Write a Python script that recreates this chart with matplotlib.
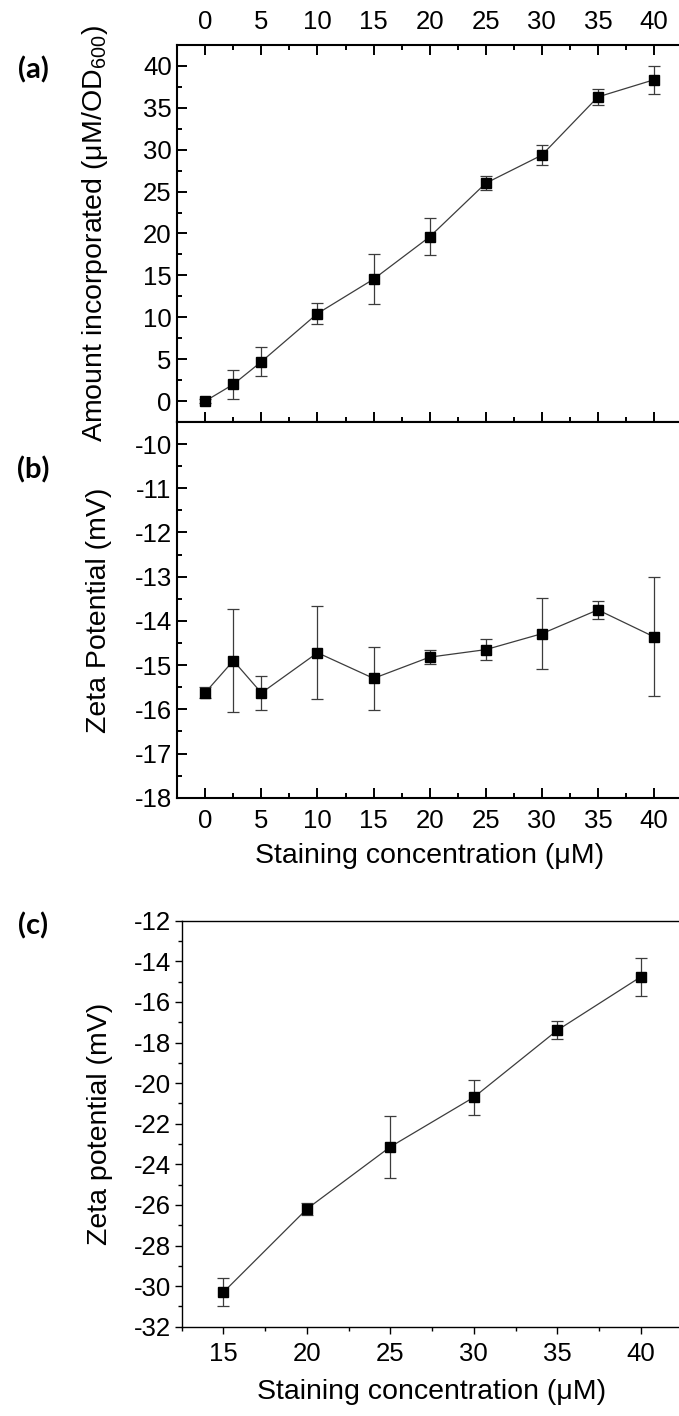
import matplotlib
matplotlib.use('Agg')
import matplotlib.pyplot as plt
from matplotlib.ticker import MultipleLocator

plt.rcParams['font.family'] = ['Liberation Sans', 'DejaVu Sans']
plt.rcParams['mathtext.fontset'] = 'custom'
plt.rcParams['mathtext.rm'] = 'Liberation Sans'
plt.rcParams['mathtext.it'] = 'Liberation Sans:italic'
plt.rcParams['axes.unicode_minus'] = False

# (a) amount incorporated vs staining concentration
conc_ab = [0, 2.5, 5, 10, 15, 20, 25, 30, 35, 40]
amount = [0.0, 2.0, 4.7, 10.45, 14.55, 19.6, 26.0, 29.35, 36.3, 38.35]
amount_err = [0.2, 1.75, 1.75, 1.2, 3.0, 2.2, 0.85, 1.2, 1.0, 1.7]

# (b) zeta potential of the same samples
zeta_b = [-15.62, -14.9, -15.63, -14.72, -15.3, -14.82, -14.65, -14.29, -13.75, -14.36]
zeta_b_err = [0.12, 1.16, 0.38, 1.05, 0.72, 0.16, 0.23, 0.8, 0.2, 1.35]

# (c) zeta potential, second series
conc_c = [15, 20, 25, 30, 35, 40]
zeta_c = [-30.3, -26.2, -23.14, -20.7, -17.4, -14.77]
zeta_c_err = [0.68, 0.28, 1.54, 0.85, 0.45, 0.92]

W, H = 679, 1416
fig = plt.figure(figsize=(W / 100, H / 100), dpi=100)


def box(left, top, right, bottom):
    return [left / W, 1 - bottom / H, (right - left) / W, (bottom - top) / H]


ax_a = fig.add_axes(box(177.3, 45, 682, 422))
ax_b = fig.add_axes(box(177.3, 422, 682, 797.7))
ax_c = fig.add_axes(box(181.7, 920.7, 682.4, 1326.7))

line_kw = dict(fmt='s-', color='#3c3c3c', mfc='black', mec='black', ms=6.5,
               lw=0.9, elinewidth=0.9, ecolor='#3c3c3c', capsize=4, capthick=0.9)

ax_a.errorbar(conc_ab, amount, yerr=amount_err, **line_kw)
ax_b.errorbar(conc_ab, zeta_b, yerr=zeta_b_err, **line_kw)
ax_c.errorbar(conc_c, zeta_c, yerr=zeta_c_err, **line_kw)

tick_fs = 18.5
label_fs = 20.5

# panel a
ax_a.set_xlim(-2.5, 42.5)
ax_a.set_ylim(-2.5, 42.5)
ax_a.xaxis.set_major_locator(MultipleLocator(5))
ax_a.xaxis.set_minor_locator(MultipleLocator(2.5))
ax_a.yaxis.set_major_locator(MultipleLocator(5))
ax_a.yaxis.set_minor_locator(MultipleLocator(2.5))
ax_a.tick_params(which='both', direction='in', top=True, bottom=True, left=True, right=False,
                 labeltop=True, labelbottom=False, width=1.4, labelsize=tick_fs)
ax_a.tick_params(which='major', length=7)
ax_a.tick_params(which='minor', length=3.5)
ax_a.tick_params(axis='x', pad=8)
ax_a.tick_params(axis='y', pad=4)
ax_a.set_ylabel(r'Amount incorporated (μM/OD$_{600}$)', fontsize=label_fs)
ax_a.yaxis.set_label_coords((110 - 177.3) / 504.7, 0.5)

# panel b
ax_b.set_xlim(-2.5, 42.5)
ax_b.set_ylim(-18, -9.5)
ax_b.xaxis.set_major_locator(MultipleLocator(5))
ax_b.xaxis.set_minor_locator(MultipleLocator(2.5))
ax_b.yaxis.set_major_locator(MultipleLocator(1))
ax_b.yaxis.set_minor_locator(MultipleLocator(0.5))
ax_b.tick_params(which='both', direction='in', top=False, bottom=True, left=True, right=False,
                 width=1.4, labelsize=tick_fs)
ax_b.tick_params(which='major', length=7)
ax_b.tick_params(which='minor', length=3.5)
ax_b.tick_params(axis='x', pad=8)
ax_b.tick_params(axis='y', pad=4)
ax_b.set_ylabel('Zeta Potential (mV)', fontsize=label_fs)
ax_b.yaxis.set_label_coords((112 - 177.3) / 504.7, 0.5)
ax_b.set_xlabel('Staining concentration (μM)', fontsize=label_fs)
ax_b.xaxis.set_label_coords(0.5, -(843 - 797.7) / 375.7)

for ax in (ax_a, ax_b):
    for s in ax.spines.values():
        s.set_linewidth(1.5)

# panel c
ax_c.set_xlim(12.5, 42.5)
ax_c.set_ylim(-32, -12)
ax_c.xaxis.set_major_locator(MultipleLocator(5))
ax_c.xaxis.set_minor_locator(MultipleLocator(2.5))
ax_c.yaxis.set_major_locator(MultipleLocator(2))
ax_c.yaxis.set_minor_locator(MultipleLocator(1))
ax_c.tick_params(which='both', direction='out', top=False, bottom=True, left=True, right=False,
                 width=1.0, labelsize=tick_fs)
ax_c.tick_params(which='major', length=5)
ax_c.tick_params(which='minor', length=3)
ax_c.tick_params(axis='x', pad=6)
ax_c.tick_params(axis='y', pad=2.5)
for s in ax_c.spines.values():
    s.set_linewidth(1.0)
ax_c.set_ylabel('Zeta potential (mV)', fontsize=label_fs)
ax_c.yaxis.set_label_coords((113 - 181.7) / 500.7, 0.5)
ax_c.set_xlabel('Staining concentration (μM)', fontsize=label_fs)
ax_c.xaxis.set_label_coords(0.5, -(1379 - 1326.7) / 406)

# panel letters
for letter, ypix in (('(a)', 70), ('(b)', 470), ('(c)', 926)):
    fig.text(33 / W, 1 - ypix / H, letter, fontsize=21, fontweight='bold',
             family=['Lato', 'DejaVu Sans'], ha='center', va='center')

fig.savefig('out.png', dpi=100)
